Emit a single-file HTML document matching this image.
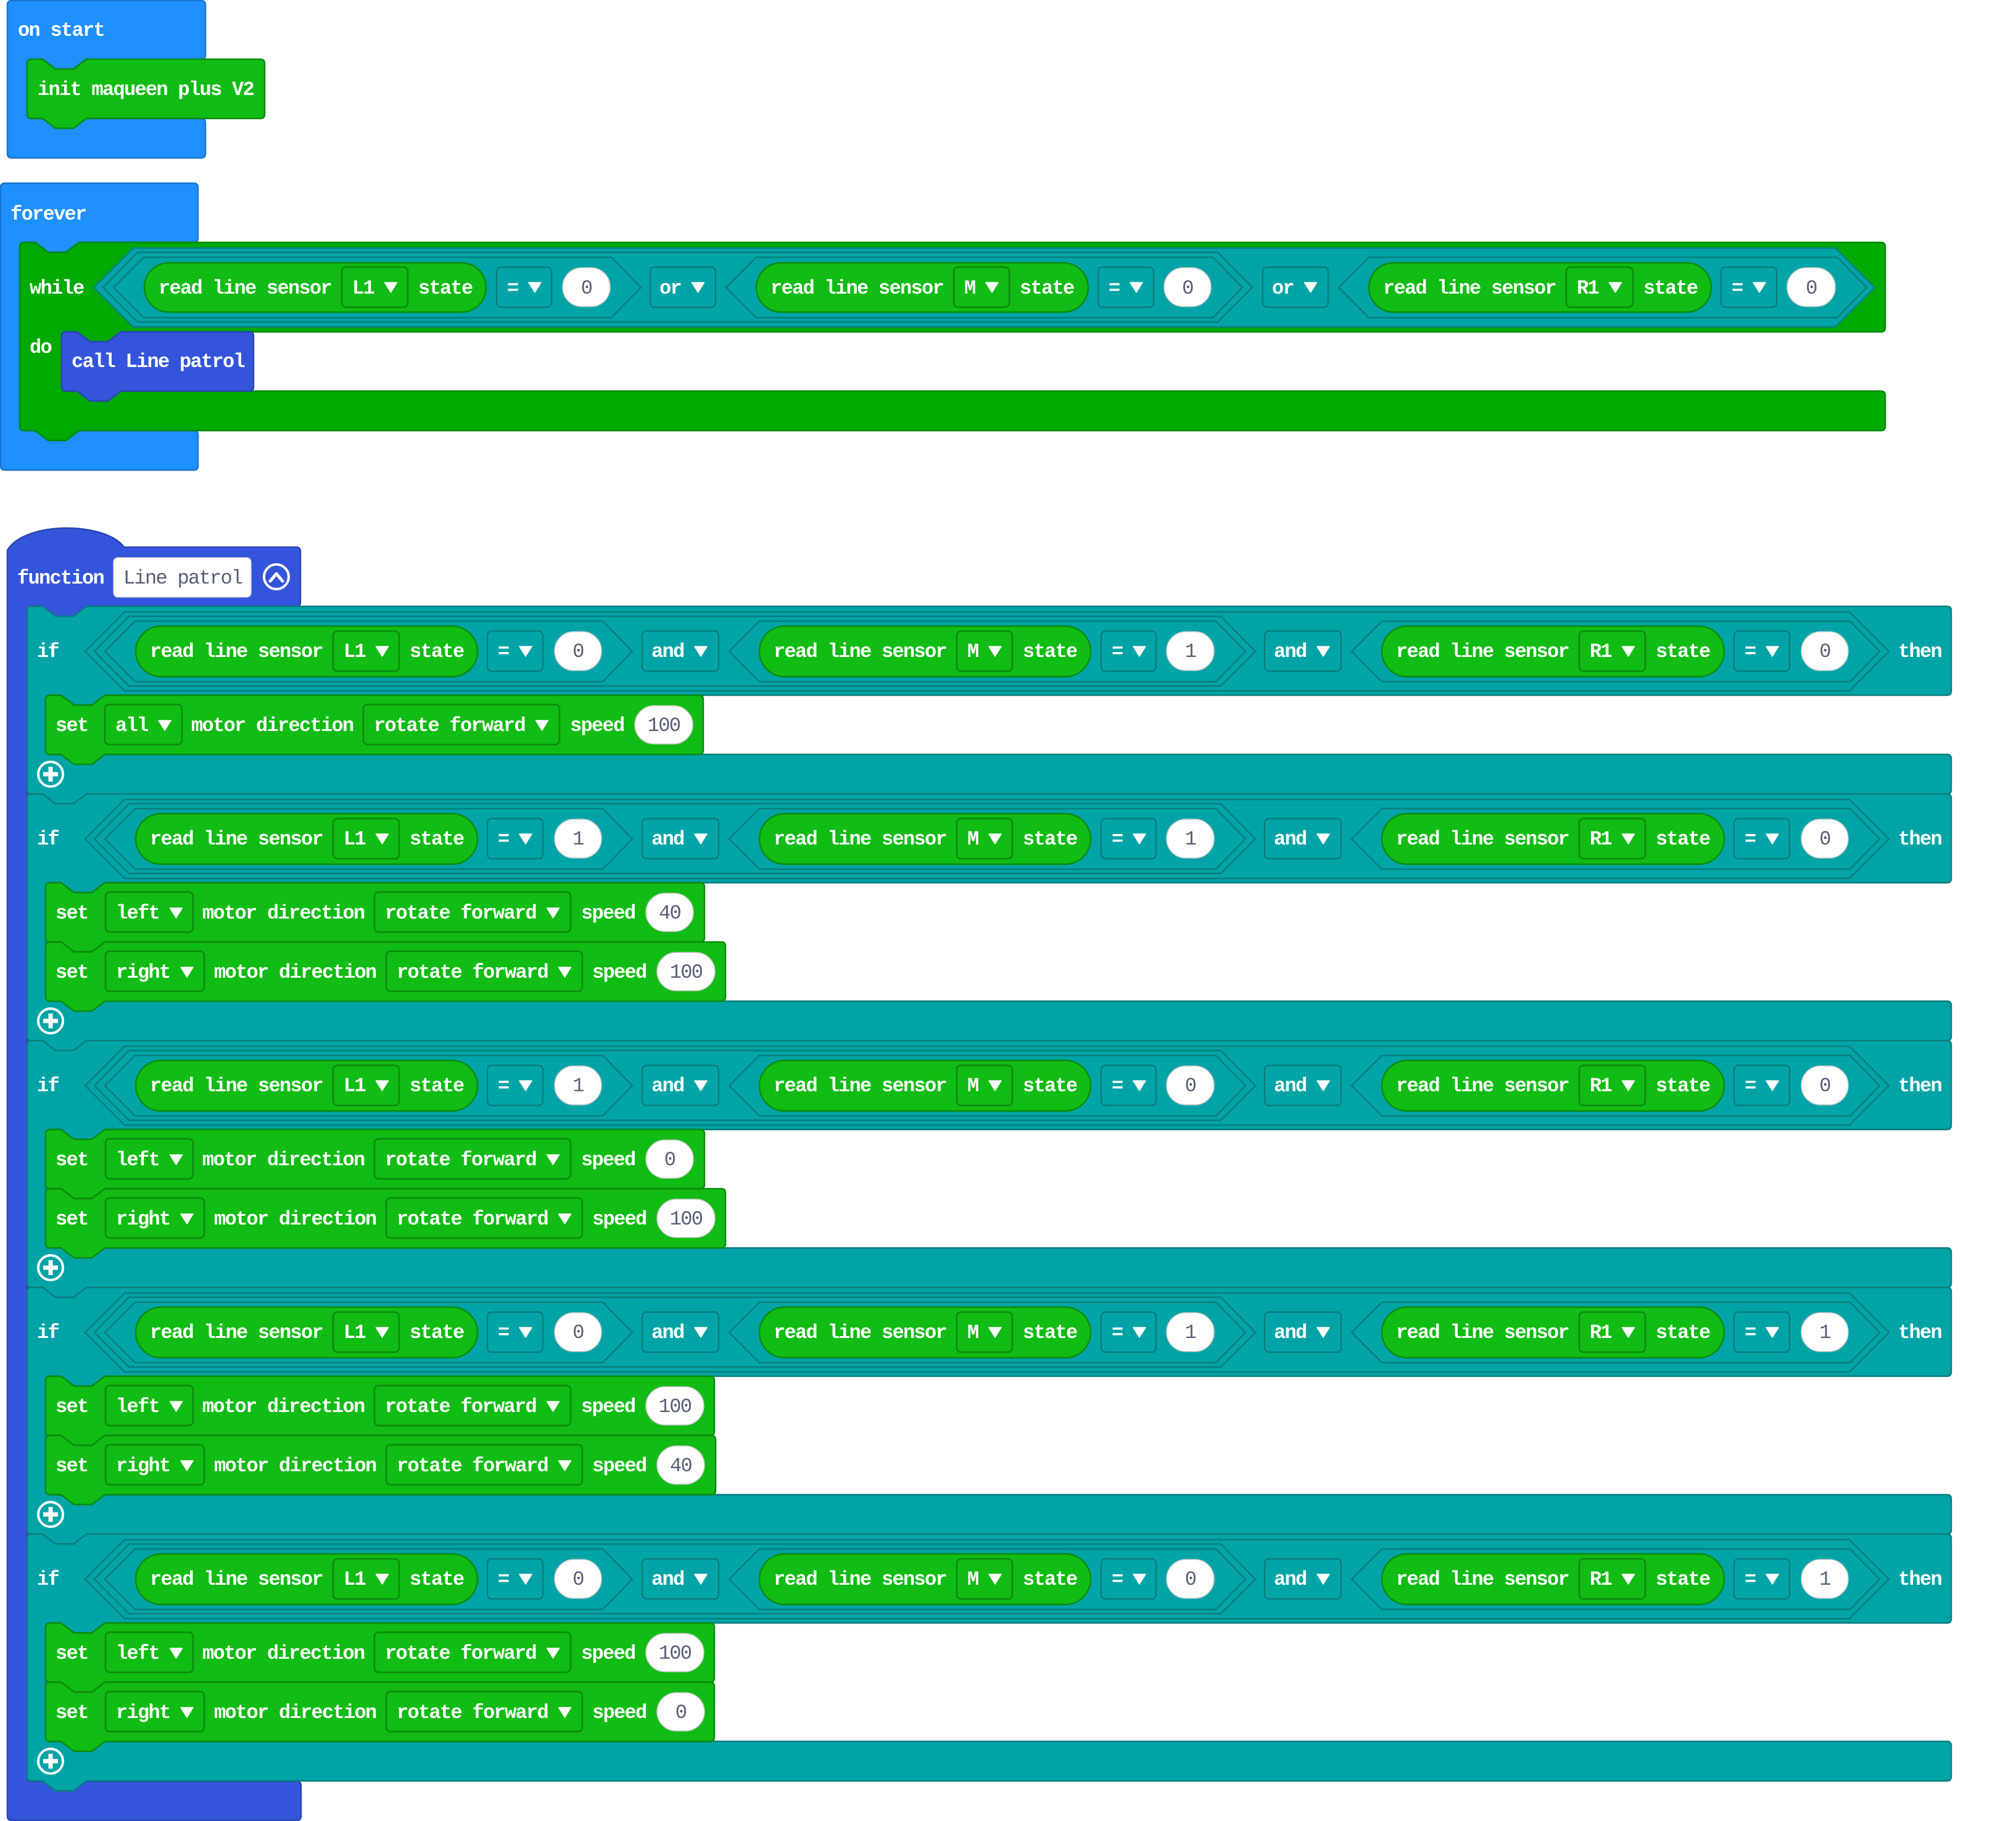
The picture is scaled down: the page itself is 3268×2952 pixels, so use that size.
<!DOCTYPE html>
<html><head><meta charset="utf-8"><title>blocks</title>
<style>
html,body{margin:0;padding:0;background:#fff}
svg{display:block}
text{font-family:"Liberation Mono","DejaVu Sans Mono",monospace;font-size:32px;font-weight:bold;fill:#fff;letter-spacing:-1.7px}
text.v{font-weight:normal;fill:#575E75;text-anchor:middle}
text.nm{font-weight:normal;fill:#575E75}
.bl{fill:#1E90FF;stroke:#1A74D0;stroke-width:2.5}
.lp{fill:#00AA00;stroke:#008800;stroke-width:2.5}
.fn{fill:#3455DB;stroke:#2A44B2;stroke-width:2.5}
.tl{fill:#00A4A6;stroke:#0B7C7E;stroke-width:2.5}
.gr{fill:#11BC14;stroke:#0B8A0E;stroke-width:2.5}
.ov{fill:#fff;stroke:#c9c9c9;stroke-width:1.5}
.ar{fill:#fff;stroke:#fff;stroke-width:1.5;stroke-linejoin:round}
.ic{fill:none;stroke:#fff;stroke-width:4}
.pl{fill:none;stroke:#fff;stroke-width:7}
</style></head>
<body>
<svg xmlns="http://www.w3.org/2000/svg" width="3268" height="2952" viewBox="0 0 3268 2952">
<rect width="3268" height="2952" fill="#fff"/>

<!-- on start -->
<path class="bl" d="M 12,8 Q 12,1 19,1 H 326 Q 333,1 333,8 V 89 Q 333,96 326,96 H 140 L 119,112 H 90 L 69,96 H 51 Q 44,96 44,103 V 185 Q 44,192 51,192 H 326 Q 333,192 333,199 V 249 Q 333,256 326,256 H 19 Q 12,256 12,249 Z"/>
<text x="29" y="58">on start</text>
<path class="gr" d="M 44,103 Q 44,96 51,96 H 69 L 90,112 H 119 L 140,96 H 422 Q 429,96 429,103 V 185 Q 429,192 422,192 H 140 L 119,208 H 90 L 69,192 H 51 Q 44,192 44,185 Z"/>
<text x="61" y="154">init maqueen plus V2</text>

<!-- forever -->
<path class="bl" d="M 1,304 Q 1,297 8,297 H 314 Q 321,297 321,304 V 386 Q 321,393 314,393 H 128 L 107,409 H 78 L 57,393 H 39 Q 32,393 32,400 V 691 Q 32,698 39,698 H 314 Q 321,698 321,705 V 755 Q 321,762 314,762 H 8 Q 1,762 1,755 Z"/>
<text x="17" y="356">forever</text>
<path class="lp" d="M 32,400 Q 32,393 39,393 H 57 L 78,409 H 107 L 128,393 H 3049 Q 3056,393 3056,400 V 531 Q 3056,538 3049,538 H 196 L 175,554 H 146 L 125,538 H 107 Q 100,538 100,545 V 627 Q 100,634 107,634 H 3049 Q 3056,634 3056,641 V 691 Q 3056,698 3049,698 H 128 L 107,714 H 78 L 57,698 H 39 Q 32,698 32,691 Z"/>
<text x="48" y="476">while</text>
<text x="48" y="572">do</text>
<polygon class="tl" points="152,466 216,402 2975,402 3039,466 2975,530 216,530"/>
<polygon class="tl" points="167,466 223,409 1974,409 2030,466 1974,522 223,522"/>
<polygon class="tl" points="184,466 233,417 991,417 1039,466 991,515 233,515"/>
<polygon class="tl" points="1177,466 1226,417 1966,417 2014,466 1966,515 1226,515"/>
<polygon class="tl" points="2170,466 2219,417 2978,417 3026,466 2978,515 2219,515"/>
<rect class="gr" x="234" y="426" width="554" height="80" rx="40"/>
<rect class="gr" x="554" y="433" width="107" height="65" rx="7"/>
<rect class="tl" x="805" y="433" width="89" height="65" rx="7"/>
<rect class="ov" x="912" y="434" width="77" height="63" rx="31"/>
<rect class="tl" x="1054" y="433" width="106" height="65" rx="7"/>
<rect class="gr" x="1226" y="426" width="538" height="80" rx="40"/>
<rect class="gr" x="1546" y="433" width="90" height="65" rx="7"/>
<rect class="tl" x="1780" y="433" width="90" height="65" rx="7"/>
<rect class="ov" x="1887" y="434" width="76" height="63" rx="31"/>
<rect class="tl" x="2047" y="433" width="106" height="65" rx="7"/>
<rect class="gr" x="2219" y="426" width="555" height="80" rx="40"/>
<rect class="gr" x="2539" y="433" width="108" height="65" rx="7"/>
<rect class="tl" x="2790" y="433" width="90" height="65" rx="7"/>
<rect class="ov" x="2897" y="434" width="78" height="63" rx="31"/>
<text x="257" y="476">read line sensor</text><text x="571" y="476">L1</text><text x="678" y="476">state</text><text x="822" y="476">=</text><text class="v" x="950.5" y="476">0</text>
<text x="1069" y="476">or</text>
<text x="1249" y="476">read line sensor</text><text x="1563" y="476">M</text><text x="1653" y="476">state</text><text x="1797" y="476">=</text><text class="v" x="1925" y="476">0</text>
<text x="2062" y="476">or</text>
<text x="2242" y="476">read line sensor</text><text x="2556" y="476">R1</text><text x="2664" y="476">state</text><text x="2807" y="476">=</text><text class="v" x="2936" y="476">0</text>
<path class="ar" d="M623.5,458 H643.5 L633.5,474Z M857,458 H877 L867,474Z M1121.5,458 H1141.5 L1131.5,474Z M1598,458 H1618 L1608,474Z M1832,458 H1852 L1842,474Z M2114.5,458 H2134.5 L2124.5,474Z M2608.5,458 H2628.5 L2618.5,474Z M2842,458 H2862 L2852,474Z"/>
<path class="fn" d="M 100,545 Q 100,538 107,538 H 125 L 146,554 H 175 L 196,538 H 404 Q 411,538 411,545 V 627 Q 411,634 404,634 H 196 L 175,650 H 146 L 125,634 H 107 Q 100,634 100,627 Z"/>
<text x="116" y="595">call Line patrol</text>

<!-- function -->
<path class="fn" d="M 12,892 C 40,845 170,845 201,887 H 480 Q 487,887 487,894 V 976 Q 487,983 480,983 H 140 L 119,999 H 90 L 69,983 H 51 Q 44,983 44,990 V 2881 Q 44,2888 51,2888 H 481 Q 488,2888 488,2895 V 2944 Q 488,2951 481,2951 H 19 Q 12,2951 12,2944 Z"/>
<text x="28" y="946">function</text>
<rect x="184" y="904" width="223" height="64" rx="7" fill="#fff" stroke="#d0d0d0" stroke-width="1.5"/>
<text class="nm" x="200" y="946">Line patrol</text>
<circle class="ic" cx="448" cy="935" r="20"/>
<polyline points="438,942 448,930 458,942" fill="none" stroke="#fff" stroke-width="5" stroke-linecap="round" stroke-linejoin="round"/>

<!-- IF 1 -->
<path class="tl" d="M 44,990 Q 44,983 51,983 H 69 L 90,999 H 119 L 140,983 H 3156 Q 3163,983 3163,990 V 1120 Q 3163,1127 3156,1127 H 170 L 149,1143 H 120 L 99,1127 H 81 Q 74,1127 74,1134 V 1216 Q 74,1223 81,1223 H 3156 Q 3163,1223 3163,1230 V 1280 Q 3163,1287 3156,1287 H 140 L 119,1303 H 90 L 69,1287 H 51 Q 44,1287 44,1280 Z"/>
<polygon class="tl" points="138,1056 202,992 2998,992 3062,1056 2998,1120 202,1120"/>
<polygon class="tl" points="153,1056 209,999 1979,999 2035,1056 1979,1112 209,1112"/>
<polygon class="tl" points="170,1056 219,1007 977,1007 1025,1056 977,1105 219,1105"/>
<polygon class="tl" points="1182,1056 1231,1007 1971,1007 2019,1056 1971,1105 1231,1105"/>
<polygon class="tl" points="2191,1056 2240,1007 2999,1007 3047,1056 2999,1105 2240,1105"/>
<rect class="gr" x="220" y="1015" width="554" height="82" rx="41"/>
<rect class="gr" x="540" y="1023" width="107" height="65" rx="7"/>
<rect class="tl" x="790" y="1023" width="90" height="65" rx="7"/>
<rect class="ov" x="899" y="1024" width="76" height="63" rx="31"/>
<rect class="tl" x="1041" y="1023" width="124" height="65" rx="7"/>
<rect class="gr" x="1231" y="1015" width="537" height="82" rx="41"/>
<rect class="gr" x="1551" y="1023" width="90" height="65" rx="7"/>
<rect class="tl" x="1785" y="1023" width="89" height="65" rx="7"/>
<rect class="ov" x="1891" y="1024" width="77" height="63" rx="31"/>
<rect class="tl" x="2050" y="1023" width="124" height="65" rx="7"/>
<rect class="gr" x="2240" y="1015" width="555" height="82" rx="41"/>
<rect class="gr" x="2560" y="1023" width="107" height="65" rx="7"/>
<rect class="tl" x="2811" y="1023" width="90" height="65" rx="7"/>
<rect class="ov" x="2920" y="1024" width="76" height="63" rx="31"/>
<text x="60" y="1065">if</text>
<text x="243" y="1065">read line sensor</text><text x="557" y="1065">L1</text><text x="664" y="1065">state</text><text x="807" y="1065">=</text><text class="v" x="937" y="1065">0</text>
<text x="1056" y="1065">and</text>
<text x="1254" y="1065">read line sensor</text><text x="1568" y="1065">M</text><text x="1658" y="1065">state</text><text x="1802" y="1065">=</text><text class="v" x="1929.5" y="1065">1</text>
<text x="2065" y="1065">and</text>
<text x="2263" y="1065">read line sensor</text><text x="2577" y="1065">R1</text><text x="2684" y="1065">state</text><text x="2828" y="1065">=</text><text class="v" x="2958" y="1065">0</text>
<text x="3077" y="1065">then</text>
<path class="ar" d="M609.5,1048 H629.5 L619.5,1064Z M842,1048 H862 L852,1064Z M1126,1048 H1146 L1136,1064Z M1603,1048 H1623 L1613,1064Z M1837,1048 H1857 L1847,1064Z M2135,1048 H2155 L2145,1064Z M2629.5,1048 H2649.5 L2639.5,1064Z M2863,1048 H2883 L2873,1064Z"/>
<!-- set all -->
<path class="gr" d="M 74,1134 Q 74,1127 81,1127 H 99 L 120,1143 H 149 L 170,1127 H 1133 Q 1140,1127 1140,1134 V 1216 Q 1140,1223 1133,1223 H 170 L 149,1239 H 120 L 99,1223 H 81 Q 74,1223 74,1216 Z"/>
<rect class="gr" x="170" y="1142" width="125" height="65" rx="7"/>
<rect class="gr" x="589" y="1142" width="318" height="65" rx="7"/>
<rect class="ov" x="1029" y="1144" width="94" height="62" rx="31"/>
<text x="90" y="1185">set</text><text x="187" y="1185">all</text><text x="310" y="1185">motor direction</text><text x="606" y="1185">rotate forward</text><text x="924" y="1185">speed</text><text class="v" x="1076" y="1185">100</text>
<path class="ar" d="M257,1168 H277 L267,1184Z M868.5,1168 H888.5 L878.5,1184Z"/>
<circle class="ic" cx="82" cy="1255" r="20"/>
<path class="pl" d="M82,1243 V1267 M70,1255 H94"/>

<!-- IF 2 -->
<path class="tl" d="M 44,1294 Q 44,1287 51,1287 H 69 L 90,1303 H 119 L 140,1287 H 3156 Q 3163,1287 3163,1294 V 1424 Q 3163,1431 3156,1431 H 170 L 149,1447 H 120 L 99,1431 H 81 Q 74,1431 74,1438 V 1616 Q 74,1623 81,1623 H 3156 Q 3163,1623 3163,1630 V 1680 Q 3163,1687 3156,1687 H 140 L 119,1703 H 90 L 69,1687 H 51 Q 44,1687 44,1680 Z"/>
<polygon class="tl" points="138,1360 202,1296 2998,1296 3062,1360 2998,1424 202,1424"/>
<polygon class="tl" points="153,1360 209,1303 1979,1303 2035,1360 1979,1416 209,1416"/>
<polygon class="tl" points="170,1360 219,1311 977,1311 1025,1360 977,1409 219,1409"/>
<polygon class="tl" points="1182,1360 1231,1311 1971,1311 2019,1360 1971,1409 1231,1409"/>
<polygon class="tl" points="2191,1360 2240,1311 2999,1311 3047,1360 2999,1409 2240,1409"/>
<rect class="gr" x="220" y="1319" width="554" height="82" rx="41"/>
<rect class="gr" x="540" y="1327" width="107" height="65" rx="7"/>
<rect class="tl" x="790" y="1327" width="90" height="65" rx="7"/>
<rect class="ov" x="899" y="1328" width="76" height="63" rx="31"/>
<rect class="tl" x="1041" y="1327" width="124" height="65" rx="7"/>
<rect class="gr" x="1231" y="1319" width="537" height="82" rx="41"/>
<rect class="gr" x="1551" y="1327" width="90" height="65" rx="7"/>
<rect class="tl" x="1785" y="1327" width="89" height="65" rx="7"/>
<rect class="ov" x="1891" y="1328" width="77" height="63" rx="31"/>
<rect class="tl" x="2050" y="1327" width="124" height="65" rx="7"/>
<rect class="gr" x="2240" y="1319" width="555" height="82" rx="41"/>
<rect class="gr" x="2560" y="1327" width="107" height="65" rx="7"/>
<rect class="tl" x="2811" y="1327" width="90" height="65" rx="7"/>
<rect class="ov" x="2920" y="1328" width="76" height="63" rx="31"/>
<text x="60" y="1369">if</text>
<text x="243" y="1369">read line sensor</text><text x="557" y="1369">L1</text><text x="664" y="1369">state</text><text x="807" y="1369">=</text><text class="v" x="937" y="1369">1</text>
<text x="1056" y="1369">and</text>
<text x="1254" y="1369">read line sensor</text><text x="1568" y="1369">M</text><text x="1658" y="1369">state</text><text x="1802" y="1369">=</text><text class="v" x="1929.5" y="1369">1</text>
<text x="2065" y="1369">and</text>
<text x="2263" y="1369">read line sensor</text><text x="2577" y="1369">R1</text><text x="2684" y="1369">state</text><text x="2828" y="1369">=</text><text class="v" x="2958" y="1369">0</text>
<text x="3077" y="1369">then</text>
<path class="ar" d="M609.5,1352 H629.5 L619.5,1368Z M842,1352 H862 L852,1368Z M1126,1352 H1146 L1136,1368Z M1603,1352 H1623 L1613,1368Z M1837,1352 H1857 L1847,1368Z M2135,1352 H2155 L2145,1368Z M2629.5,1352 H2649.5 L2639.5,1368Z M2863,1352 H2883 L2873,1368Z"/>
<!-- set left 40 -->
<path class="gr" d="M 74,1438 Q 74,1431 81,1431 H 99 L 120,1447 H 149 L 170,1431 H 1135 Q 1142,1431 1142,1438 V 1520 Q 1142,1527 1135,1527 H 170 L 149,1543 H 120 L 99,1527 H 81 Q 74,1527 74,1520 Z"/>
<rect class="gr" x="171" y="1446" width="142" height="65" rx="7"/>
<rect class="gr" x="607" y="1446" width="318" height="65" rx="7"/>
<rect class="ov" x="1047" y="1448" width="77" height="62" rx="31"/>
<text x="90" y="1489">set</text><text x="188" y="1489">left</text><text x="328" y="1489">motor direction</text><text x="624" y="1489">rotate forward</text><text x="942" y="1489">speed</text><text class="v" x="1085.5" y="1489">40</text>
<path class="ar" d="M275.5,1472 H295.5 L285.5,1488Z M886.5,1472 H906.5 L896.5,1488Z"/>
<!-- set right 100 -->
<path class="gr" d="M 74,1534 Q 74,1527 81,1527 H 99 L 120,1543 H 149 L 170,1527 H 1169 Q 1176,1527 1176,1534 V 1616 Q 1176,1623 1169,1623 H 170 L 149,1639 H 120 L 99,1623 H 81 Q 74,1623 74,1616 Z"/>
<rect class="gr" x="171" y="1542" width="160" height="65" rx="7"/>
<rect class="gr" x="626" y="1542" width="318" height="65" rx="7"/>
<rect class="ov" x="1065" y="1544" width="94" height="62" rx="31"/>
<text x="90" y="1585">set</text><text x="188" y="1585">right</text><text x="347" y="1585">motor direction</text><text x="643" y="1585">rotate forward</text><text x="960" y="1585">speed</text><text class="v" x="1112" y="1585">100</text>
<path class="ar" d="M293,1568 H313 L303,1584Z M905.5,1568 H925.5 L915.5,1584Z"/>
<circle class="ic" cx="82" cy="1655" r="20"/>
<path class="pl" d="M82,1643 V1667 M70,1655 H94"/>

<!-- IF 3 -->
<path class="tl" d="M 44,1694 Q 44,1687 51,1687 H 69 L 90,1703 H 119 L 140,1687 H 3156 Q 3163,1687 3163,1694 V 1824 Q 3163,1831 3156,1831 H 170 L 149,1847 H 120 L 99,1831 H 81 Q 74,1831 74,1838 V 2016 Q 74,2023 81,2023 H 3156 Q 3163,2023 3163,2030 V 2080 Q 3163,2087 3156,2087 H 140 L 119,2103 H 90 L 69,2087 H 51 Q 44,2087 44,2080 Z"/>
<polygon class="tl" points="138,1760 202,1696 2998,1696 3062,1760 2998,1824 202,1824"/>
<polygon class="tl" points="153,1760 209,1703 1979,1703 2035,1760 1979,1816 209,1816"/>
<polygon class="tl" points="170,1760 219,1711 977,1711 1025,1760 977,1809 219,1809"/>
<polygon class="tl" points="1182,1760 1231,1711 1971,1711 2019,1760 1971,1809 1231,1809"/>
<polygon class="tl" points="2191,1760 2240,1711 2999,1711 3047,1760 2999,1809 2240,1809"/>
<rect class="gr" x="220" y="1719" width="554" height="82" rx="41"/>
<rect class="gr" x="540" y="1727" width="107" height="65" rx="7"/>
<rect class="tl" x="790" y="1727" width="90" height="65" rx="7"/>
<rect class="ov" x="899" y="1728" width="76" height="63" rx="31"/>
<rect class="tl" x="1041" y="1727" width="124" height="65" rx="7"/>
<rect class="gr" x="1231" y="1719" width="537" height="82" rx="41"/>
<rect class="gr" x="1551" y="1727" width="90" height="65" rx="7"/>
<rect class="tl" x="1785" y="1727" width="89" height="65" rx="7"/>
<rect class="ov" x="1891" y="1728" width="77" height="63" rx="31"/>
<rect class="tl" x="2050" y="1727" width="124" height="65" rx="7"/>
<rect class="gr" x="2240" y="1719" width="555" height="82" rx="41"/>
<rect class="gr" x="2560" y="1727" width="107" height="65" rx="7"/>
<rect class="tl" x="2811" y="1727" width="90" height="65" rx="7"/>
<rect class="ov" x="2920" y="1728" width="76" height="63" rx="31"/>
<text x="60" y="1769">if</text>
<text x="243" y="1769">read line sensor</text><text x="557" y="1769">L1</text><text x="664" y="1769">state</text><text x="807" y="1769">=</text><text class="v" x="937" y="1769">1</text>
<text x="1056" y="1769">and</text>
<text x="1254" y="1769">read line sensor</text><text x="1568" y="1769">M</text><text x="1658" y="1769">state</text><text x="1802" y="1769">=</text><text class="v" x="1929.5" y="1769">0</text>
<text x="2065" y="1769">and</text>
<text x="2263" y="1769">read line sensor</text><text x="2577" y="1769">R1</text><text x="2684" y="1769">state</text><text x="2828" y="1769">=</text><text class="v" x="2958" y="1769">0</text>
<text x="3077" y="1769">then</text>
<path class="ar" d="M609.5,1752 H629.5 L619.5,1768Z M842,1752 H862 L852,1768Z M1126,1752 H1146 L1136,1768Z M1603,1752 H1623 L1613,1768Z M1837,1752 H1857 L1847,1768Z M2135,1752 H2155 L2145,1768Z M2629.5,1752 H2649.5 L2639.5,1768Z M2863,1752 H2883 L2873,1768Z"/>
<!-- set left 0 -->
<path class="gr" d="M 74,1838 Q 74,1831 81,1831 H 99 L 120,1847 H 149 L 170,1831 H 1135 Q 1142,1831 1142,1838 V 1920 Q 1142,1927 1135,1927 H 170 L 149,1943 H 120 L 99,1927 H 81 Q 74,1927 74,1920 Z"/>
<rect class="gr" x="171" y="1846" width="142" height="65" rx="7"/>
<rect class="gr" x="607" y="1846" width="318" height="65" rx="7"/>
<rect class="ov" x="1047" y="1848" width="77" height="62" rx="31"/>
<text x="90" y="1889">set</text><text x="188" y="1889">left</text><text x="328" y="1889">motor direction</text><text x="624" y="1889">rotate forward</text><text x="942" y="1889">speed</text><text class="v" x="1085.5" y="1889">0</text>
<path class="ar" d="M275.5,1872 H295.5 L285.5,1888Z M886.5,1872 H906.5 L896.5,1888Z"/>
<!-- set right 100 -->
<path class="gr" d="M 74,1934 Q 74,1927 81,1927 H 99 L 120,1943 H 149 L 170,1927 H 1169 Q 1176,1927 1176,1934 V 2016 Q 1176,2023 1169,2023 H 170 L 149,2039 H 120 L 99,2023 H 81 Q 74,2023 74,2016 Z"/>
<rect class="gr" x="171" y="1942" width="160" height="65" rx="7"/>
<rect class="gr" x="626" y="1942" width="318" height="65" rx="7"/>
<rect class="ov" x="1065" y="1944" width="94" height="62" rx="31"/>
<text x="90" y="1985">set</text><text x="188" y="1985">right</text><text x="347" y="1985">motor direction</text><text x="643" y="1985">rotate forward</text><text x="960" y="1985">speed</text><text class="v" x="1112" y="1985">100</text>
<path class="ar" d="M293,1968 H313 L303,1984Z M905.5,1968 H925.5 L915.5,1984Z"/>
<circle class="ic" cx="82" cy="2055" r="20"/>
<path class="pl" d="M82,2043 V2067 M70,2055 H94"/>

<!-- IF 4 -->
<path class="tl" d="M 44,2094 Q 44,2087 51,2087 H 69 L 90,2103 H 119 L 140,2087 H 3156 Q 3163,2087 3163,2094 V 2224 Q 3163,2231 3156,2231 H 170 L 149,2247 H 120 L 99,2231 H 81 Q 74,2231 74,2238 V 2416 Q 74,2423 81,2423 H 3156 Q 3163,2423 3163,2430 V 2480 Q 3163,2487 3156,2487 H 140 L 119,2503 H 90 L 69,2487 H 51 Q 44,2487 44,2480 Z"/>
<polygon class="tl" points="138,2160 202,2096 2998,2096 3062,2160 2998,2224 202,2224"/>
<polygon class="tl" points="153,2160 209,2103 1979,2103 2035,2160 1979,2216 209,2216"/>
<polygon class="tl" points="170,2160 219,2111 977,2111 1025,2160 977,2209 219,2209"/>
<polygon class="tl" points="1182,2160 1231,2111 1971,2111 2019,2160 1971,2209 1231,2209"/>
<polygon class="tl" points="2191,2160 2240,2111 2999,2111 3047,2160 2999,2209 2240,2209"/>
<rect class="gr" x="220" y="2119" width="554" height="82" rx="41"/>
<rect class="gr" x="540" y="2127" width="107" height="65" rx="7"/>
<rect class="tl" x="790" y="2127" width="90" height="65" rx="7"/>
<rect class="ov" x="899" y="2128" width="76" height="63" rx="31"/>
<rect class="tl" x="1041" y="2127" width="124" height="65" rx="7"/>
<rect class="gr" x="1231" y="2119" width="537" height="82" rx="41"/>
<rect class="gr" x="1551" y="2127" width="90" height="65" rx="7"/>
<rect class="tl" x="1785" y="2127" width="89" height="65" rx="7"/>
<rect class="ov" x="1891" y="2128" width="77" height="63" rx="31"/>
<rect class="tl" x="2050" y="2127" width="124" height="65" rx="7"/>
<rect class="gr" x="2240" y="2119" width="555" height="82" rx="41"/>
<rect class="gr" x="2560" y="2127" width="107" height="65" rx="7"/>
<rect class="tl" x="2811" y="2127" width="90" height="65" rx="7"/>
<rect class="ov" x="2920" y="2128" width="76" height="63" rx="31"/>
<text x="60" y="2169">if</text>
<text x="243" y="2169">read line sensor</text><text x="557" y="2169">L1</text><text x="664" y="2169">state</text><text x="807" y="2169">=</text><text class="v" x="937" y="2169">0</text>
<text x="1056" y="2169">and</text>
<text x="1254" y="2169">read line sensor</text><text x="1568" y="2169">M</text><text x="1658" y="2169">state</text><text x="1802" y="2169">=</text><text class="v" x="1929.5" y="2169">1</text>
<text x="2065" y="2169">and</text>
<text x="2263" y="2169">read line sensor</text><text x="2577" y="2169">R1</text><text x="2684" y="2169">state</text><text x="2828" y="2169">=</text><text class="v" x="2958" y="2169">1</text>
<text x="3077" y="2169">then</text>
<path class="ar" d="M609.5,2152 H629.5 L619.5,2168Z M842,2152 H862 L852,2168Z M1126,2152 H1146 L1136,2168Z M1603,2152 H1623 L1613,2168Z M1837,2152 H1857 L1847,2168Z M2135,2152 H2155 L2145,2168Z M2629.5,2152 H2649.5 L2639.5,2168Z M2863,2152 H2883 L2873,2168Z"/>
<!-- set left 100 -->
<path class="gr" d="M 74,2238 Q 74,2231 81,2231 H 99 L 120,2247 H 149 L 170,2231 H 1151 Q 1158,2231 1158,2238 V 2320 Q 1158,2327 1151,2327 H 170 L 149,2343 H 120 L 99,2327 H 81 Q 74,2327 74,2320 Z"/>
<rect class="gr" x="171" y="2246" width="142" height="65" rx="7"/>
<rect class="gr" x="607" y="2246" width="318" height="65" rx="7"/>
<rect class="ov" x="1047" y="2248" width="94" height="62" rx="31"/>
<text x="90" y="2289">set</text><text x="188" y="2289">left</text><text x="328" y="2289">motor direction</text><text x="624" y="2289">rotate forward</text><text x="942" y="2289">speed</text><text class="v" x="1094" y="2289">100</text>
<path class="ar" d="M275.5,2272 H295.5 L285.5,2288Z M886.5,2272 H906.5 L896.5,2288Z"/>
<!-- set right 40 -->
<path class="gr" d="M 74,2334 Q 74,2327 81,2327 H 99 L 120,2343 H 149 L 170,2327 H 1153 Q 1160,2327 1160,2334 V 2416 Q 1160,2423 1153,2423 H 170 L 149,2439 H 120 L 99,2423 H 81 Q 74,2423 74,2416 Z"/>
<rect class="gr" x="171" y="2342" width="160" height="65" rx="7"/>
<rect class="gr" x="626" y="2342" width="318" height="65" rx="7"/>
<rect class="ov" x="1065" y="2344" width="77" height="62" rx="31"/>
<text x="90" y="2385">set</text><text x="188" y="2385">right</text><text x="347" y="2385">motor direction</text><text x="643" y="2385">rotate forward</text><text x="960" y="2385">speed</text><text class="v" x="1103.5" y="2385">40</text>
<path class="ar" d="M293,2368 H313 L303,2384Z M905.5,2368 H925.5 L915.5,2384Z"/>
<circle class="ic" cx="82" cy="2455" r="20"/>
<path class="pl" d="M82,2443 V2467 M70,2455 H94"/>

<!-- IF 5 -->
<path class="tl" d="M 44,2494 Q 44,2487 51,2487 H 69 L 90,2503 H 119 L 140,2487 H 3156 Q 3163,2487 3163,2494 V 2624 Q 3163,2631 3156,2631 H 170 L 149,2647 H 120 L 99,2631 H 81 Q 74,2631 74,2638 V 2816 Q 74,2823 81,2823 H 3156 Q 3163,2823 3163,2830 V 2880 Q 3163,2887 3156,2887 H 140 L 119,2903 H 90 L 69,2887 H 51 Q 44,2887 44,2880 Z"/>
<polygon class="tl" points="138,2560 202,2496 2998,2496 3062,2560 2998,2624 202,2624"/>
<polygon class="tl" points="153,2560 209,2503 1979,2503 2035,2560 1979,2616 209,2616"/>
<polygon class="tl" points="170,2560 219,2511 977,2511 1025,2560 977,2609 219,2609"/>
<polygon class="tl" points="1182,2560 1231,2511 1971,2511 2019,2560 1971,2609 1231,2609"/>
<polygon class="tl" points="2191,2560 2240,2511 2999,2511 3047,2560 2999,2609 2240,2609"/>
<rect class="gr" x="220" y="2519" width="554" height="82" rx="41"/>
<rect class="gr" x="540" y="2527" width="107" height="65" rx="7"/>
<rect class="tl" x="790" y="2527" width="90" height="65" rx="7"/>
<rect class="ov" x="899" y="2528" width="76" height="63" rx="31"/>
<rect class="tl" x="1041" y="2527" width="124" height="65" rx="7"/>
<rect class="gr" x="1231" y="2519" width="537" height="82" rx="41"/>
<rect class="gr" x="1551" y="2527" width="90" height="65" rx="7"/>
<rect class="tl" x="1785" y="2527" width="89" height="65" rx="7"/>
<rect class="ov" x="1891" y="2528" width="77" height="63" rx="31"/>
<rect class="tl" x="2050" y="2527" width="124" height="65" rx="7"/>
<rect class="gr" x="2240" y="2519" width="555" height="82" rx="41"/>
<rect class="gr" x="2560" y="2527" width="107" height="65" rx="7"/>
<rect class="tl" x="2811" y="2527" width="90" height="65" rx="7"/>
<rect class="ov" x="2920" y="2528" width="76" height="63" rx="31"/>
<text x="60" y="2569">if</text>
<text x="243" y="2569">read line sensor</text><text x="557" y="2569">L1</text><text x="664" y="2569">state</text><text x="807" y="2569">=</text><text class="v" x="937" y="2569">0</text>
<text x="1056" y="2569">and</text>
<text x="1254" y="2569">read line sensor</text><text x="1568" y="2569">M</text><text x="1658" y="2569">state</text><text x="1802" y="2569">=</text><text class="v" x="1929.5" y="2569">0</text>
<text x="2065" y="2569">and</text>
<text x="2263" y="2569">read line sensor</text><text x="2577" y="2569">R1</text><text x="2684" y="2569">state</text><text x="2828" y="2569">=</text><text class="v" x="2958" y="2569">1</text>
<text x="3077" y="2569">then</text>
<path class="ar" d="M609.5,2552 H629.5 L619.5,2568Z M842,2552 H862 L852,2568Z M1126,2552 H1146 L1136,2568Z M1603,2552 H1623 L1613,2568Z M1837,2552 H1857 L1847,2568Z M2135,2552 H2155 L2145,2568Z M2629.5,2552 H2649.5 L2639.5,2568Z M2863,2552 H2883 L2873,2568Z"/>
<!-- set left 100 -->
<path class="gr" d="M 74,2638 Q 74,2631 81,2631 H 99 L 120,2647 H 149 L 170,2631 H 1151 Q 1158,2631 1158,2638 V 2720 Q 1158,2727 1151,2727 H 170 L 149,2743 H 120 L 99,2727 H 81 Q 74,2727 74,2720 Z"/>
<rect class="gr" x="171" y="2646" width="142" height="65" rx="7"/>
<rect class="gr" x="607" y="2646" width="318" height="65" rx="7"/>
<rect class="ov" x="1047" y="2648" width="94" height="62" rx="31"/>
<text x="90" y="2689">set</text><text x="188" y="2689">left</text><text x="328" y="2689">motor direction</text><text x="624" y="2689">rotate forward</text><text x="942" y="2689">speed</text><text class="v" x="1094" y="2689">100</text>
<path class="ar" d="M275.5,2672 H295.5 L285.5,2688Z M886.5,2672 H906.5 L896.5,2688Z"/>
<!-- set right 0 -->
<path class="gr" d="M 74,2734 Q 74,2727 81,2727 H 99 L 120,2743 H 149 L 170,2727 H 1151 Q 1158,2727 1158,2734 V 2816 Q 1158,2823 1151,2823 H 170 L 149,2839 H 120 L 99,2823 H 81 Q 74,2823 74,2816 Z"/>
<rect class="gr" x="171" y="2742" width="160" height="65" rx="7"/>
<rect class="gr" x="626" y="2742" width="318" height="65" rx="7"/>
<rect class="ov" x="1065" y="2744" width="77" height="62" rx="31"/>
<text x="90" y="2785">set</text><text x="188" y="2785">right</text><text x="347" y="2785">motor direction</text><text x="643" y="2785">rotate forward</text><text x="960" y="2785">speed</text><text class="v" x="1103.5" y="2785">0</text>
<path class="ar" d="M293,2768 H313 L303,2784Z M905.5,2768 H925.5 L915.5,2784Z"/>
<circle class="ic" cx="82" cy="2855" r="20"/>
<path class="pl" d="M82,2843 V2867 M70,2855 H94"/>
</svg>
</body></html>
